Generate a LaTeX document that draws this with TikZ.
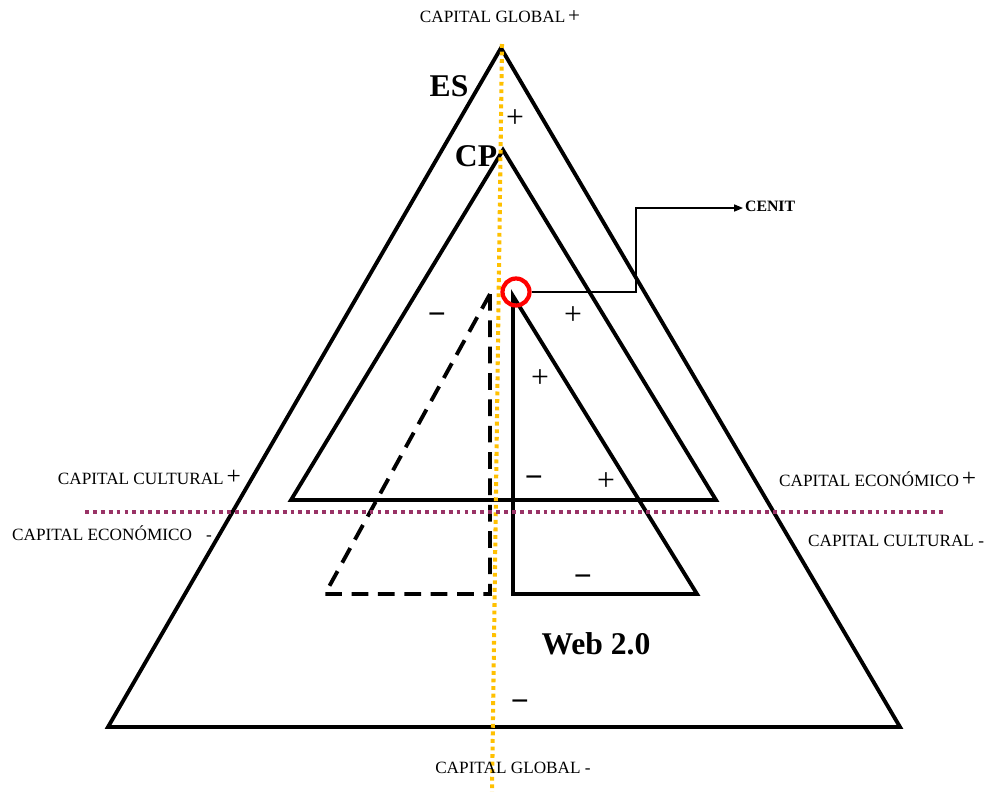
\documentclass[tikz,border=0pt]{standalone}
\usepackage{fontspec}
\setmainfont{Liberation Serif}
\usepackage{tikz}
\usetikzlibrary{arrows.meta,positioning}
\definecolor{axisGold}{HTML}{FFC000}
\definecolor{axisPlum}{HTML}{993366}
\definecolor{cenitRed}{HTML}{FF0000}

\begin{document}
\begin{tikzpicture}[
  x=0.02cm, y=-0.02cm,
  tri/.style={draw, line width=2.2pt, line join=miter},
  dashtri/.style={tri, dash pattern=on 9.5pt off 5.5pt},
  goldaxis/.style={draw=axisGold, line width=2.3pt, dash pattern=on 2.2pt off 2.1pt},
  plumaxis/.style={draw=axisPlum, line width=2.2pt, dash pattern=on 2.2pt off 2.3pt},
  axislbl/.style={font=\fontsize{9.8}{11}\selectfont, inner sep=1pt},
  sign/.style={font=\fontsize{18}{18}\selectfont, inner sep=0pt},
  title/.style={font=\fontsize{18}{20}\selectfont\bfseries, inner sep=0pt},
  pointer/.style={-{Triangle[length=5pt,width=4pt]}, line width=0.6pt},
]
\useasboundingbox (0,0) rectangle (985,792);

% triangles
\draw[tri] (501,48) -- (900,727) -- (108,727) -- cycle;
\draw[tri] (503,150) -- (716,500) -- (291,500) -- cycle;
\draw[tri] (513,296) -- (697,594) -- (513,594) -- cycle;
\draw[dashtri] (490,294) -- (490,594) -- (325,594) -- cycle;

% axes
\draw[goldaxis] (502,44) -- (492,792);
\draw[plumaxis] (85,512) -- (945,512);

% axis labels
\node[axislbl] (globalPlus) at (500,17) {CAPITAL GLOBAL\,{\large+}};
\node[axislbl] (globalMinus) at (513,768) {CAPITAL GLOBAL -};
\node[axislbl, anchor=east] (culturalPlus) at (243,477) {CAPITAL CULTURAL\,{\Large+}};
\node[axislbl, anchor=west] (economicoPlus) at (777,479) {CAPITAL ECONÓMICO\,{\Large+}};
\node[axislbl, anchor=west] (economicoMinus) at (10,533) {CAPITAL ECONÓMICO\hspace{8pt}-};
\node[axislbl, anchor=west] (culturalMinus) at (806,541) {CAPITAL CULTURAL -};

% titles
\node[title] (es) at (449,86) {ES};
\node[title] (cp) at (476,156) {CP};
\node[title] (web) at (596,644) {Web 2.0};

% signs
\node[sign] (esPlus) at (515,119) {+};
\node[sign] (cpMinus) at (437,319) {\bfseries −};
\node[sign] (cpPlus) at (573,316) {+};
\node[sign] (webPlusTop) at (540,379) {+};
\node[sign] (webMinusMid) at (534,482) {\bfseries −};
\node[sign] (webPlusMid) at (606,482) {+};
\node[sign] (webMinusLow) at (583,581) {\bfseries −};
\node[sign] (esMinus) at (520,706) {\bfseries −};

% cenit
\node[draw=cenitRed, line width=2.4pt, circle, inner sep=0pt, minimum size=0.54cm] (cenit) at (516,292) {};
\node[font=\fontsize{9}{10}\selectfont\bfseries, anchor=west, inner sep=1pt] (cenitlbl) at (743,206) {CENIT};
\coordinate (bend) at (636,208);
\draw[pointer] (cenit.east) -| (bend) -- (bend -| cenitlbl.west);
\end{tikzpicture}
\end{document}
